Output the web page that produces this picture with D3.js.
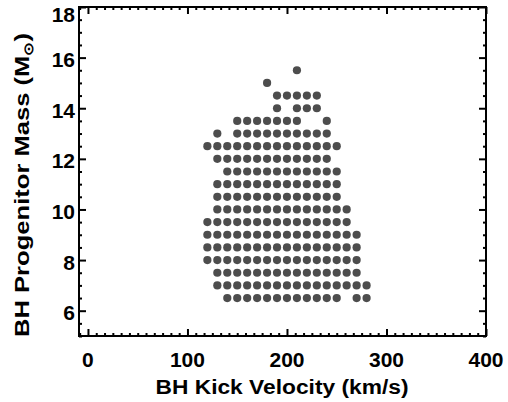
<!DOCTYPE html>
<html>
<head>
<meta charset="utf-8">
<script src="https://cdn.jsdelivr.net/npm/d3@7"></script>
<style>
  html, body { margin: 0; padding: 0; background: #fff; }
  svg { display: block; }
  text { font-family: "Liberation Sans", Arial, sans-serif; font-weight: bold; fill: #000; }
</style>
</head>
<body>
<svg id="chart" width="508" height="402"></svg>
<script>
// ---- data ----
const masses = [15.5, 15, 14.5, 14, 13.5, 13, 12.5, 12, 11.5, 11, 10.5, 10, 9.5, 9, 8.5, 8, 7.5, 7, 6.5];
const kicksByMass = [
  [210],
  [180],
  [190, 200, 210, 220, 230],
  [190, 210, 220, 230],
  [150, 160, 170, 180, 190, 200, 210, 240],
  [130, 150, 160, 170, 180, 190, 200, 210, 220, 230, 240],
  [120, 130, 140, 150, 160, 170, 180, 190, 200, 210, 220, 230, 240, 250],
  [130, 140, 150, 160, 170, 180, 190, 200, 210, 220, 230, 240],
  [140, 150, 160, 170, 180, 190, 200, 210, 220, 230, 240, 250],
  [130, 140, 150, 160, 170, 180, 190, 200, 210, 220, 230, 240, 250],
  [130, 140, 150, 160, 170, 180, 190, 200, 210, 220, 230, 240, 250],
  [130, 140, 150, 160, 170, 180, 190, 200, 210, 220, 230, 240, 250, 260],
  [120, 130, 140, 150, 160, 170, 180, 190, 200, 210, 220, 230, 240, 250, 260],
  [120, 130, 140, 150, 160, 170, 180, 190, 200, 210, 220, 230, 240, 250, 260, 270],
  [120, 130, 140, 150, 160, 170, 180, 190, 200, 210, 220, 230, 240, 250, 260, 270],
  [120, 130, 140, 150, 160, 170, 180, 190, 200, 210, 220, 230, 240, 250, 260, 270],
  [130, 140, 150, 160, 170, 180, 190, 200, 210, 220, 230, 240, 250, 260, 270],
  [130, 140, 150, 160, 170, 180, 190, 200, 210, 220, 230, 240, 250, 260, 270, 280],
  [140, 150, 160, 170, 180, 190, 200, 210, 220, 230, 240, 250, 270, 280]
];
const xTickValues = [0, 100, 200, 300, 400];
const yTickValues = [6, 8, 10, 12, 14, 16, 18];
const xDomain = [-9, 400];
const yDomain = [5, 18];

const points = [];
masses.forEach((m, i) => kicksByMass[i].forEach(v => points.push({ v, m })));

// ---- layout ----
const L = 79, R = 486, T = 7, B = 336;
const svg = d3.select("#chart");
const x = d3.scaleLinear().domain(xDomain).range([L, R]);
const y = d3.scaleLinear().domain(yDomain).range([B, T]);

// minor tick values
const xMinorVals = [];
for (let k = -1; k <= 48; k++) {
  const v = k * 100 / 12;
  if (v >= xDomain[0] && v <= xDomain[1] && Math.abs(v % 100) > 0.01) xMinorVals.push(v);
}
const yMinorVals = d3.range(5, 18.01, 0.5).filter(v => v % 2 !== 0);

// ---- points ----
svg.append("g").selectAll("circle").data(points).join("circle")
  .attr("cx", d => x(d.v))
  .attr("cy", d => y(d.m))
  .attr("r", 4.1)
  .attr("fill", "#4d4d4d");

// ---- axes (ticks inward on all four sides) ----
function styleAxis(g) {
  g.select(".domain").remove();
  g.selectAll(".tick line").attr("stroke", "#000").attr("stroke-width", 2);
}
function addAxis(axisFn, pos, vals, size) {
  svg.append("g").attr("transform", pos)
    .call(axisFn.tickValues(vals).tickSize(size).tickFormat(""))
    .call(styleAxis);
}
addAxis(d3.axisBottom(x), `translate(0,${B})`, xTickValues, -7);
addAxis(d3.axisBottom(x), `translate(0,${B})`, xMinorVals, -3);
addAxis(d3.axisTop(x), `translate(0,${T})`, xTickValues, -7);
addAxis(d3.axisTop(x), `translate(0,${T})`, xMinorVals, -3);
addAxis(d3.axisLeft(y), `translate(${L},0)`, yTickValues, -7);
addAxis(d3.axisLeft(y), `translate(${L},0)`, yMinorVals, -3);
addAxis(d3.axisRight(y), `translate(${R},0)`, yTickValues, -7);
addAxis(d3.axisRight(y), `translate(${R},0)`, yMinorVals, -3);

// frame
svg.append("rect")
  .attr("x", L).attr("y", T).attr("width", R - L).attr("height", B - T)
  .attr("fill", "none").attr("stroke", "#000").attr("stroke-width", 2);

// tick labels
svg.append("g").selectAll("text").data(xTickValues).join("text")
  .attr("x", d => x(d))
  .attr("y", 367)
  .attr("text-anchor", "middle")
  .attr("font-size", 21)
  .text(d => d);
svg.append("g").selectAll("text").data(yTickValues).join("text")
  .attr("x", 75)
  .attr("y", d => Math.max(y(d) + 9.5, 22))
  .attr("text-anchor", "end")
  .attr("font-size", 21)
  .text(d => d);

// axis titles
svg.append("text")
  .attr("x", 282).attr("y", 394)
  .attr("text-anchor", "middle")
  .attr("font-size", 20)
  .attr("textLength", 253).attr("lengthAdjust", "spacingAndGlyphs")
  .text("BH Kick Velocity (km/s)");

const yt = svg.append("text")
  .attr("transform", "translate(29,185) rotate(-90)")
  .attr("text-anchor", "middle")
  .attr("font-size", 20)
  .attr("textLength", 304).attr("lengthAdjust", "spacingAndGlyphs");
yt.append("tspan").text("BH Progenitor Mass (M");
yt.append("tspan").attr("font-size", 13).attr("dy", 4).text("⊙");
yt.append("tspan").attr("dy", -4).text(")");
</script>
</body>
</html>
